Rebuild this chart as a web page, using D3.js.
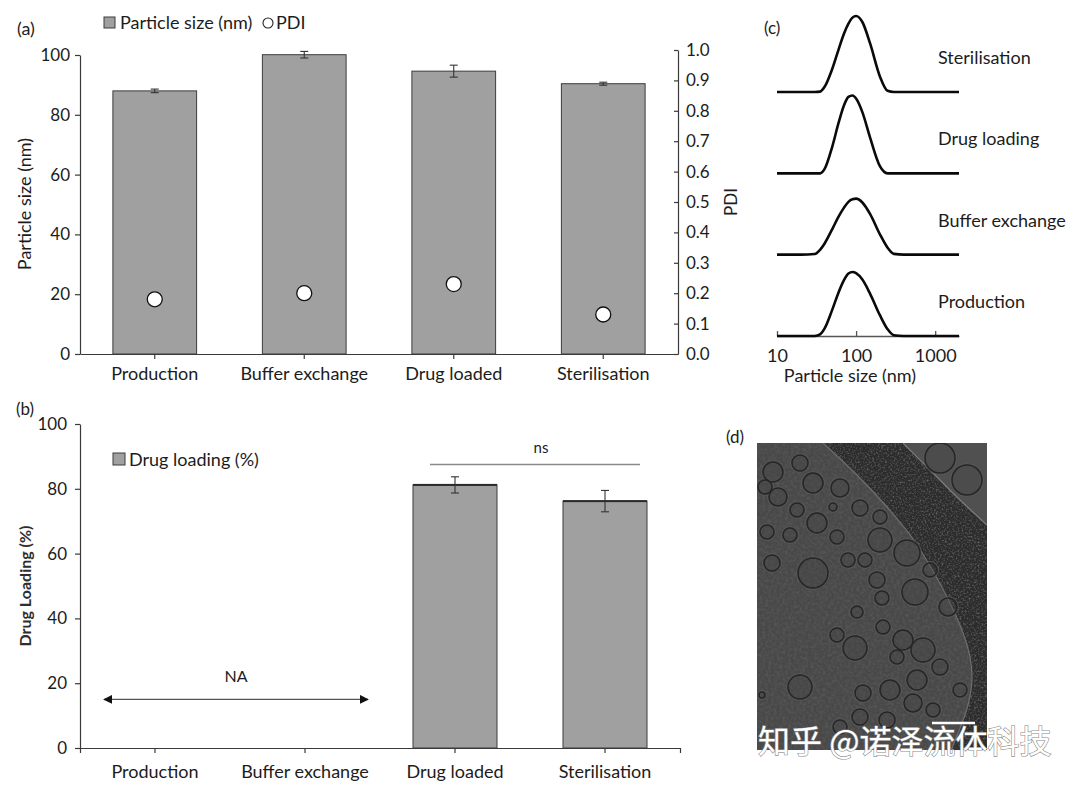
<!DOCTYPE html>
<html><head><meta charset="utf-8">
<script src="https://cdn.jsdelivr.net/npm/d3@7"></script>
<style>
body{margin:0;background:#fff;}
svg{display:block;}
</style></head><body>
<svg id="c" width="1080" height="787"></svg>
<script>
// ---------------- DATA ----------------
const stages = ["Production", "Buffer exchange", "Drug loaded", "Sterilisation"];
const particleSize = [88.0, 100.1, 94.6, 90.4];
const particleSizeErr = [0.6, 1.1, 2.0, 0.5];
const pdi = [0.18, 0.20, 0.23, 0.13];
const sizeTicks = [0, 20, 40, 60, 80, 100];
const pdiTicks = [0, 0.1, 0.2, 0.3, 0.4, 0.5, 0.6, 0.7, 0.8, 0.9, 1.0];

const drugLoading = [null, null, 81.2, 76.2];
const drugLoadingErr = [null, null, 2.5, 3.3];
const loadingTicks = [0, 20, 40, 60, 80, 100];

const dlsSizes = [10, 20, 30, 35, 40, 50, 60, 70, 80, 90, 100, 120, 150, 200, 250, 300, 400, 1000, 2000];
const dlsSeries = ["Sterilisation", "Drug loading", "Buffer exchange", "Production"];
const dlsSterilisation = [0, 0, 0, 0.1, 1.3, 5.8, 10.6, 14.5, 17.1, 18.6, 19.0, 17.5, 12.2, 3.9, 0.3, 0, 0, 0, 0];
const dlsDrugLoading   = [0, 0, 0, 0, 1.1, 6.7, 12.6, 16.9, 19.1, 19.45, 18.7, 15.3, 9.0, 1.8, 0, 0, 0, 0, 0];
const dlsBuffer        = [0, 0, 0.15, 1.2, 2.8, 6.4, 9.5, 11.7, 13.2, 13.85, 14.0, 13.05, 10.2, 5.1, 1.75, 0.2, 0, 0, 0];
const dlsProduction    = [0, 0, 0, 0.4, 1.9, 6.6, 10.9, 13.9, 15.6, 16.0, 15.7, 14.1, 10.6, 5.2, 1.7, 0.2, 0, 0, 0];
const dlsTicks = [10, 100, 1000];

// micrograph (panel d), image coordinates 0..230 x 0..307
const vesicles = [[16,29,10],[43,20,8],[56,40,10],[83,45,9],[21,54,9],[8,44,7],[40,67,7],[60,80,10],[76,64,4],
  [103,65,8],[123,74,7],[10,89,7],[33,92,7],[80,94,7],[123,97,12],[150,110,13],[15,120,8],[56,130,15],[91,117,7],
  [108,117,7],[120,137,8],[158,149,13],[125,155,7],[100,169,6],[173,127,7],[191,164,9],[80,192,7],[126,184,7],
  [146,197,10],[166,207,12],[98,205,12],[140,214,7],[183,224,8],[160,237,10],[43,244,12],[106,250,8],[133,247,10],
  [156,260,9],[103,274,8],[130,277,8],[83,284,7],[203,247,7],[176,267,7],[5,252,3],[183,15,15],[210,37,15]];
const iceEdge = [[66,0],[100,32],[130,64],[156,96],[176,128],[193,160],[206,190],[213,214],[215,236],[211,262],[202,288],[194,307]];
const filmEdge = [[146,0],[176,30],[203,57],[230,82]];

// ---------------- DRAW ----------------
const FONT = "Lato, 'Open Sans', sans-serif";
const AX = "#3a3a3a", TXT = "#1c1c1c";
const svg = d3.select("#c").attr("font-family", FONT);
const defs = svg.append("defs");

function styleAxis(g, fs) {
  g.attr("font-family", FONT).attr("font-size", fs);
  g.selectAll("path.domain").attr("stroke", AX).attr("stroke-width", 1.2);
  g.selectAll(".tick line").attr("stroke", AX).attr("stroke-width", 1.2);
  g.selectAll(".tick text").attr("fill", TXT);
}
function label(x, y, t, fs, opts = {}) {
  const e = svg.append("text").attr("x", x).attr("y", y).text(t)
    .attr("font-size", fs).attr("fill", TXT).attr("text-anchor", opts.anchor || "start");
  if (opts.rotate) e.attr("transform", `rotate(${opts.rotate},${x},${y})`);
  if (opts.weight) e.attr("font-weight", opts.weight);
  return e;
}

// ===== Panel (a) =====
const xA = d3.scaleBand().domain(stages).range([80, 678]).paddingInner(0.44).paddingOuter(0.22);
const yA = d3.scaleLinear().domain([0, 100]).range([354, 55]);
const yP = d3.scaleLinear().domain([0, 1]).range([354, 50]);
const bwA = xA.bandwidth();

svg.append("g").selectAll("rect").data(stages).join("rect")
  .attr("x", d => xA(d)).attr("y", (d, i) => yA(particleSize[i]))
  .attr("width", bwA).attr("height", (d, i) => yA(0) - yA(particleSize[i]))
  .attr("fill", "#a0a0a0").attr("stroke", "#3c3c3c").attr("stroke-width", 1);

const errA = svg.append("g").attr("stroke", "#333").attr("stroke-width", 1.1);
stages.forEach((d, i) => {
  const cx = xA(d) + bwA / 2, y1 = yA(particleSize[i] + particleSizeErr[i]), y2 = yA(particleSize[i] - particleSizeErr[i]);
  errA.append("line").attr("x1", cx).attr("x2", cx).attr("y1", y1).attr("y2", y2);
  errA.append("line").attr("x1", cx - 4).attr("x2", cx + 4).attr("y1", y1).attr("y2", y1);
  errA.append("line").attr("x1", cx - 4).attr("x2", cx + 4).attr("y1", y2).attr("y2", y2);
});

svg.append("g").selectAll("circle").data(stages).join("circle")
  .attr("cx", d => xA(d) + bwA / 2).attr("cy", (d, i) => yP(pdi[i])).attr("r", 7.5)
  .attr("fill", "#fff").attr("stroke", "#111").attr("stroke-width", 1.3);

svg.append("g").attr("transform", "translate(80,0)")
  .call(d3.axisLeft(yA).tickValues(sizeTicks).tickSize(5).tickPadding(5).tickSizeOuter(0))
  .call(g => styleAxis(g, 17));
svg.append("g").attr("transform", "translate(678,0)")
  .call(d3.axisRight(yP).tickValues(pdiTicks).tickFormat(d3.format(".1f")).tickSize(-4).tickPadding(8).tickSizeOuter(0))
  .call(g => styleAxis(g, 17));
svg.append("g").attr("transform", "translate(0,354)")
  .call(d3.axisBottom(xA).tickSize(5).tickPadding(8).tickSizeOuter(0))
  .call(g => styleAxis(g, 18));

label(25, 204, "Particle size (nm)", 18, {anchor: "middle", rotate: -90}).attr("dy", "0.35em");
label(731, 202, "PDI", 17, {anchor: "middle", rotate: -90}).attr("dy", "0.35em");
label(17, 35, "(a)", 18);
// legend (a)
svg.append("rect").attr("x", 104).attr("y", 17).attr("width", 11).attr("height", 11)
  .attr("fill", "#a0a0a0").attr("stroke", "#3c3c3c");
label(120, 29, "Particle size (nm)", 18);
svg.append("circle").attr("cx", 268).attr("cy", 23).attr("r", 5).attr("fill", "#fff").attr("stroke", "#222").attr("stroke-width", 1.1);
label(276, 29, "PDI", 18);

// ===== Panel (b) =====
const xB = d3.scaleBand().domain(stages).range([80, 680]).paddingInner(0.44).paddingOuter(0.22);
const yB = d3.scaleLinear().domain([0, 100]).range([748, 424]);
const bwB = xB.bandwidth();
const loaded = stages.map((d, i) => ({d, v: drugLoading[i], e: drugLoadingErr[i]})).filter(o => o.v !== null);

svg.append("g").selectAll("rect").data(loaded).join("rect")
  .attr("x", o => xB(o.d)).attr("y", o => yB(o.v)).attr("width", bwB).attr("height", o => yB(0) - yB(o.v))
  .attr("fill", "#a0a0a0").attr("stroke", "#3c3c3c").attr("stroke-width", 1);
svg.selectAll(null).data(loaded).join("rect")
  .attr("x", o => xB(o.d)).attr("y", o => yB(o.v) - 1).attr("width", bwB).attr("height", 2).attr("fill", "#2a2a2a");
const errB = svg.append("g").attr("stroke", "#333").attr("stroke-width", 1.1);
loaded.forEach(o => {
  const cx = xB(o.d) + bwB / 2, y1 = yB(o.v + o.e), y2 = yB(o.v - o.e);
  errB.append("line").attr("x1", cx).attr("x2", cx).attr("y1", y1).attr("y2", y2);
  errB.append("line").attr("x1", cx - 4).attr("x2", cx + 4).attr("y1", y1).attr("y2", y1);
  errB.append("line").attr("x1", cx - 4).attr("x2", cx + 4).attr("y1", y2).attr("y2", y2);
});

svg.append("g").attr("transform", "translate(80,0)")
  .call(d3.axisLeft(yB).tickValues(loadingTicks).tickSize(5).tickPadding(8).tickSizeOuter(0))
  .call(g => styleAxis(g, 17));
svg.append("g").attr("transform", "translate(0,748)")
  .call(d3.axisBottom(xB).tickSize(5).tickPadding(12).tickSizeOuter(5))
  .call(g => styleAxis(g, 18));

label(25, 586, "Drug Loading (%)", 16, {anchor: "middle", rotate: -90, weight: 700}).attr("dy", "0.35em").attr("fill", "#2e2e2e");
label(16, 415, "(b)", 17);
svg.append("rect").attr("x", 113).attr("y", 453).attr("width", 12).attr("height", 12)
  .attr("fill", "#a0a0a0").attr("stroke", "#3c3c3c");
label(129, 466, "Drug loading (%)", 18);

// ns bracket
const nsX1 = xB("Drug loaded") + 17, nsX2 = xB("Sterilisation") + bwB - 7;
svg.append("line").attr("x1", nsX1).attr("x2", nsX2).attr("y1", yB(87.5)).attr("y2", yB(87.5))
  .attr("stroke", "#8a8a8a").attr("stroke-width", 1.5);
label((nsX1 + nsX2) / 2 + 6, yB(92.6), "ns", 15, {anchor: "middle"}).attr("dy", "0.35em");

// NA arrow
defs.append("marker").attr("id", "arr").attr("viewBox", "0 0 10 10").attr("refX", 9).attr("refY", 5)
  .attr("markerWidth", 9).attr("markerHeight", 9).attr("markerUnits", "userSpaceOnUse").attr("orient", "auto-start-reverse")
  .append("path").attr("d", "M0,0L10,5L0,10Z").attr("fill", "#111");
const naX1 = xB.range()[0] + 24, naX2 = xB("Buffer exchange") + bwB + 21;
svg.append("line").attr("x1", naX1).attr("x2", naX2).attr("y1", yB(15)).attr("y2", yB(15))
  .attr("stroke", "#555").attr("stroke-width", 1.3)
  .attr("marker-start", "url(#arr)").attr("marker-end", "url(#arr)");
label((naX1 + naX2) / 2, yB(22), "NA", 16, {anchor: "middle"}).attr("dy", "0.35em");

// ===== Panel (c) =====
const xC = d3.scaleLog().domain([10, 2000]).range([777, 959]);
const rowY = d3.scalePoint().domain(dlsSeries).range([92, 336]);
const hC = d3.scaleLinear().domain([0, 20]).range([0, 80]);
const dlsValues = {"Sterilisation": dlsSterilisation, "Drug loading": dlsDrugLoading, "Buffer exchange": dlsBuffer, "Production": dlsProduction};

svg.append("g").attr("transform", "translate(0,336)")
  .call(d3.axisBottom(xC).tickValues(dlsTicks).tickFormat(d3.format("d")).tickSize(-5).tickPadding(13).tickSizeOuter(0))
  .call(g => styleAxis(g, 18))
  .call(g => g.selectAll("path.domain,.tick line").attr("stroke", "#555").attr("stroke-width", 1.3));

dlsSeries.forEach(s => {
  const base = rowY(s);
  const ln = d3.line().x((v, i) => xC(dlsSizes[i])).y(v => base - hC(v)).curve(d3.curveMonotoneX);
  svg.append("path").attr("d", ln(dlsValues[s])).attr("fill", "none")
    .attr("stroke", "#0a0a0a").attr("stroke-width", 2.6).attr("stroke-linejoin", "round");
  label(938, base - 28, s, 18);
});
label(850, 382, "Particle size (nm)", 18, {anchor: "middle"});
label(764, 34, "(c)", 17);

// ===== Panel (d) micrograph =====
const X = d3.scaleLinear().domain([0, 230]).range([757, 987]);
const Y = d3.scaleLinear().domain([0, 307]).range([443, 750]);
label(726, 443, "(d)", 17);

defs.append("clipPath").attr("id", "imgClip").append("rect")
  .attr("x", X(0)).attr("y", Y(0)).attr("width", X(230) - X(0)).attr("height", Y(307) - Y(0));
const edgeLine = d3.line().x(p => X(p[0])).y(p => Y(p[1])).curve(d3.curveCatmullRom);
const bandPath = edgeLine(iceEdge) + `L${X(230)},${Y(307)}L${X(230)},${Y(82)}` + edgeLine(filmEdge.slice().reverse()).replace(/^M/, "L") + "Z";
const filmPath = edgeLine(filmEdge) + `L${X(230)},${Y(0)}Z`;
defs.append("clipPath").attr("id", "bandClip").append("path").attr("d", bandPath);

const f1 = defs.append("filter").attr("id", "grain").attr("filterUnits", "userSpaceOnUse")
  .attr("x", X(0)).attr("y", Y(0)).attr("width", 230).attr("height", 307);
f1.append("feTurbulence").attr("type", "fractalNoise").attr("baseFrequency", 0.55).attr("numOctaves", 2).attr("seed", 7);
f1.append("feColorMatrix").attr("type", "matrix").attr("values", "0 0 0 0 0.45  0 0 0 0 0.45  0 0 0 0 0.45  2.6 0 0 0 -1.2");
const f2 = defs.append("filter").attr("id", "grain2").attr("filterUnits", "userSpaceOnUse")
  .attr("x", X(0)).attr("y", Y(0)).attr("width", 230).attr("height", 307);
f2.append("feTurbulence").attr("type", "fractalNoise").attr("baseFrequency", 0.35).attr("numOctaves", 2).attr("seed", 3);
f2.append("feColorMatrix").attr("type", "matrix").attr("values", "0 0 0 0 0.2  0 0 0 0 0.2  0 0 0 0 0.2  1.4 0 0 0 -0.5");

const img = svg.append("g").attr("clip-path", "url(#imgClip)");
img.append("rect").attr("x", X(0)).attr("y", Y(0)).attr("width", X(230) - X(0)).attr("height", Y(307) - Y(0)).attr("fill", "#484848");
img.append("rect").attr("x", X(0)).attr("y", Y(0)).attr("width", 230).attr("height", 307).attr("filter", "url(#grain2)").attr("opacity", 0.4);
img.append("path").attr("d", filmPath).attr("fill", "#505050");
img.append("path").attr("d", bandPath).attr("fill", "#2c2c2c");
img.append("g").attr("clip-path", "url(#bandClip)").append("rect")
  .attr("x", X(0)).attr("y", Y(0)).attr("width", 230).attr("height", 307).attr("filter", "url(#grain)").attr("opacity", 0.4);
img.append("path").attr("d", edgeLine(iceEdge)).attr("fill", "none").attr("stroke", "#6e6e6e").attr("stroke-width", 1.2);
img.append("path").attr("d", edgeLine(filmEdge)).attr("fill", "none").attr("stroke", "#7e7e7e").attr("stroke-width", 1.2);
img.append("g").selectAll("circle").data(vesicles).join("circle")
  .attr("cx", v => X(v[0])).attr("cy", v => Y(v[1])).attr("r", v => v[2] + 1.4)
  .attr("fill", "none").attr("stroke", "#585858").attr("stroke-width", 1);
img.append("g").selectAll("circle").data(vesicles).join("circle")
  .attr("cx", v => X(v[0])).attr("cy", v => Y(v[1])).attr("r", v => v[2])
  .attr("fill", "#444").attr("fill-opacity", 0.3).attr("stroke", "#262626").attr("stroke-width", 1.5);
// scale bar
img.append("line").attr("x1", X(175)).attr("x2", X(218)).attr("y1", Y(280)).attr("y2", Y(280))
  .attr("stroke", "#fff").attr("stroke-width", 2.5);

// watermark
svg.append("text").attr("x", 758).attr("y", 753).text("知乎 @诺泽流体科技")
  .attr("font-family", "'Noto Sans CJK SC', sans-serif").attr("font-size", 32)
  .attr("fill", "#fff").attr("stroke", "#8c8c8c").attr("stroke-width", 1.2).attr("paint-order", "stroke");
</script>
</body></html>
